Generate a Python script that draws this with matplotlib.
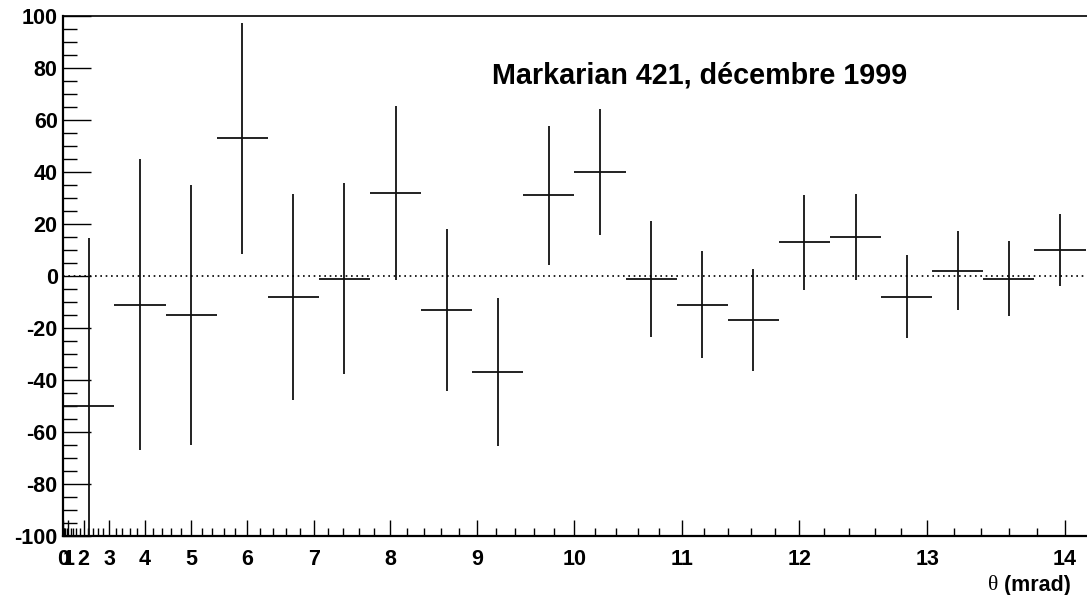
import numpy as np
import matplotlib
matplotlib.use('Agg')
from matplotlib import pyplot as plt

plt.rcParams['font.family'] = ['Liberation Sans', 'DejaVu Sans']
plt.rcParams['font.weight'] = 'bold'
plt.rcParams['axes.unicode_minus'] = False

# data: theta^2 bins (mrad^2), excess counts and errors
theta2_center = [5, 15, 25, 35, 45, 55, 65, 75, 85, 95,
                 105, 115, 125, 135, 145, 155, 165, 175, 185, 195]
theta2_halfwidth = 5
excess = [-50, -11, -15, 53, -8, -1, 32, -13, -37, 31,
          40, -1, -11, -17, 13, 15, -8, 2, -1, 10]
excess_err = [64.5, 56, 50, 44.5, 39.7, 36.7, 33.4, 31.1, 28.4, 26.7,
              24.2, 22.3, 20.5, 19.6, 18.2, 16.7, 16, 15.2, 14.5, 13.8]

theta_major = list(range(0, 15))
title = 'Markarian 421, d\u00e9cembre 1999'

W, H = 1087, 595
fig = plt.figure(figsize=(W / 100, H / 100), dpi=100)
x0, x1 = 63.3, 63.3 + 5.153 * 200
y_top, y_bot = 16, 536
ax = fig.add_axes([x0 / W, (H - y_bot) / H, (x1 - x0) / W, (y_bot - y_top) / H])

ax.errorbar(theta2_center, excess, xerr=theta2_halfwidth, yerr=excess_err,
            fmt='none', ecolor='#111111', elinewidth=1.3, capsize=0)
ax.axhline(0, color='black', lw=1.2, ls=(0, (1, 2.2)))

ax.set_xlim(0, 200)
ax.set_ylim(-100, 100)

# x axis is linear in theta^2 but labelled in theta
th_minor = [k * 0.2 for k in range(0, 72) if k % 5 != 0]
ax.set_xticks([t ** 2 for t in theta_major])
ax.set_xticklabels([str(t) for t in theta_major])
ax.set_xticks([t ** 2 for t in th_minor], minor=True)
ax.set_yticks(np.arange(-100, 101, 20))
ax.set_yticks(np.arange(-100, 101, 5), minor=True)

ax.tick_params(axis='both', which='both', direction='in', width=1.0,
               labelsize=15.5, colors='black')
ax.tick_params(axis='x', which='major', length=11.5, pad=9.5)
ax.tick_params(axis='x', which='minor', length=5.8)
ax.tick_params(axis='y', which='major', length=20, pad=4)
ax.tick_params(axis='y', which='minor', length=10)
for lab in ax.get_xticklabels() + ax.get_yticklabels():
    lab.set_fontweight('bold')

ax.spines['left'].set_linewidth(1.6)
ax.spines['bottom'].set_linewidth(1.6)
ax.spines['top'].set_linewidth(1.2)
ax.spines['right'].set_linewidth(1.2)

fig.text(491.7 / W, 1 - 83.3 / H, title, fontsize=20.7, fontweight='bold',
         ha='left', va='baseline')

t_unit = fig.text(1071 / W, 1 - 585 / H, ' (mrad)', fontsize=15.5,
                  fontweight='bold', ha='right', va='center')
fig.canvas.draw()
ax.annotate('\u03b8', xy=(0, 0.5), xycoords=t_unit, ha='right', va='center',
            fontsize=15.5, fontweight='normal', family='Liberation Serif')

fig.savefig('out.png', dpi=100)
